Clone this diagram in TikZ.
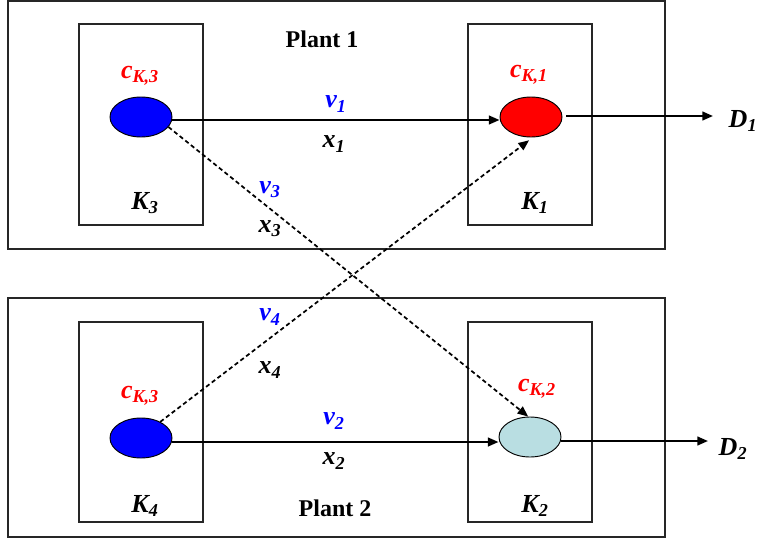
\documentclass[tikz,border=0pt]{standalone}
\usepackage{fontspec}
\setmainfont{Liberation Serif}
\usetikzlibrary{shapes.geometric,arrows.meta}
\definecolor{lightcyan}{RGB}{185,222,226}
\newcommand\lab[2]{#1\textsubscript{#2}}
\tikzset{
  plantbox/.style={draw=black!85, line width=0.9pt},
  kbox/.style={draw=black!85, line width=0.8pt},
  valve/.style={ellipse, draw=black, line width=0.7pt, minimum width=46.5pt, minimum height=30pt, inner sep=0pt},
  math/.style={font=\fontsize{19.5}{20}\selectfont\bfseries\itshape, inner sep=0pt},
  title/.style={font=\fontsize{18}{19}\selectfont\bfseries, inner sep=0pt},
  flow/.style={line width=1.6pt, -{Triangle[length=8pt,width=6.5pt]}},
  dflow/.style={line width=1.3pt, dash pattern=on 3.2pt off 2.2pt, -{Triangle[length=8pt,width=6.5pt]}}
}
\begin{document}
\begin{tikzpicture}[x=0.75pt,y=-0.75pt]
\useasboundingbox (0,0) rectangle (759,539);
% plant boxes
\draw[plantbox] (8,1) rectangle (665,249);
\draw[plantbox] (8,298) rectangle (665,537);
% controller boxes
\draw[kbox] (79,24) rectangle (203,225);
\draw[kbox] (468,24) rectangle (592,225);
\draw[kbox] (79,322) rectangle (203,522);
\draw[kbox] (468,322) rectangle (592,522);
% titles
\node[title] (p1) at (322,39) {Plant 1};
\node[title] (p2) at (335,508) {Plant 2};
% ellipses
\node[valve, fill=blue] (e3) at (141,117) {};
\node[valve, fill=red] (e1) at (531,117) {};
\node[valve, fill=blue] (e4) at (141,438) {};
\node[valve, fill=lightcyan] (e2) at (530,437) {};
% c labels
\node[math, text=red] (c3) at (140,76) {\lab{c}{K,3}};
\node[math, text=red] (c1) at (529,75) {\lab{c}{K,1}};
\node[math, text=red] (c4) at (140,396) {\lab{c}{K,3}};
\node[math, text=red] (c2) at (537,389) {\lab{c}{K,2}};
% K labels
\node[math] (k3) at (145,203) {\lab{K}{3}};
\node[math] (k1) at (535,203) {\lab{K}{1}};
\node[math] (k4) at (145,506) {\lab{K}{4}};
\node[math] (k2) at (535,506) {\lab{K}{2}};
% flow labels
\node[math, text=blue] (v1) at (336,104) {\lab{v}{1}};
\node[math] (x1) at (334,144) {\lab{x}{1}};
\node[math, text=blue] (v3) at (270,190) {\lab{v}{3}};
\node[math] (x3) at (270,229) {\lab{x}{3}};
\node[math, text=blue] (v4) at (270,317) {\lab{v}{4}};
\node[math] (x4) at (270,370) {\lab{x}{4}};
\node[math, text=blue] (v2) at (334,421) {\lab{v}{2}};
\node[math] (x2) at (334,461) {\lab{x}{2}};
\node[math] (d1) at (743,121) {\lab{D}{1}};
\node[math] (d2) at (733,449) {\lab{D}{2}};
% outputs
\coordinate (o1) at (713,116);
\coordinate (o2) at (708,441);
% connectors
\draw[flow] (e3.east |- 0,120) -- (e1.west |- 0,120);
\draw[flow] (e4.east |- 0,442) -- (e2.west |- 0,442);
\draw[flow, shorten <=3pt] (e1.east |- o1) -- (o1);
\draw[flow] (e2.east |- o2) -- (o2);
\draw[dflow] (e3.-20) -- (e2.95);
\draw[dflow, shorten >=3.5pt] (e4.40) -- (e1.-85);
\end{tikzpicture}
\end{document}
